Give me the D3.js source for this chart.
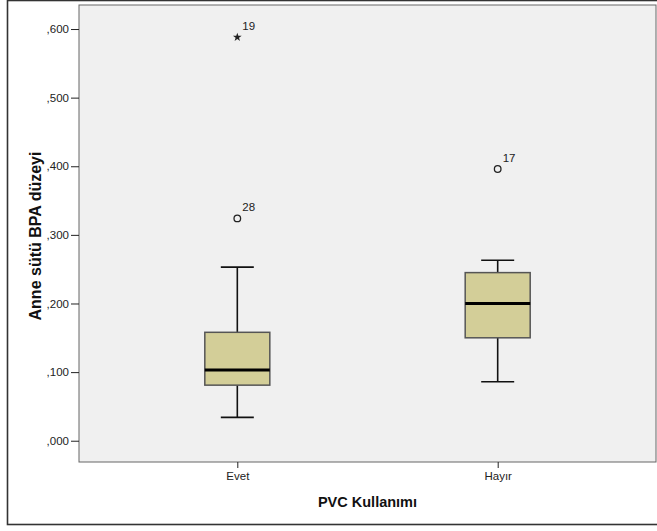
<!DOCTYPE html>
<html lang="tr">
<head>
  <meta charset="UTF-8">
  <title>Anne sütü BPA düzeyi</title>
  <script src="https://d3js.org/d3.v7.min.js"></script>
  <style>
    body { margin: 0; background: #fff; }
    svg { display: block; font-family: "Liberation Sans", Arial, sans-serif; }
    .tick text { font-size: 11.5px; fill: #222; }
  </style>
</head>
<body>
  <svg id="chart" width="657" height="531"></svg>
  <script>
    // data
    const categories = ["Evet", "Hayır"];
    const whiskerLow = [0.034, 0.086];
    const q1 = [0.081, 0.150];
    const median = [0.103, 0.200];
    const q3 = [0.158, 0.245];
    const whiskerHigh = [0.253, 0.263];

    // outliers (circle) and extremes (star)
    const outlierCat = ["Evet", "Evet", "Hayır"];
    const outlierValue = [0.324, 0.588, 0.396];
    const outlierLabel = ["28", "19", "17"];
    const outlierKind = ["circle", "star", "circle"];

    const yTicks = [0, 0.1, 0.2, 0.3, 0.4, 0.5, 0.6];

    // layout
    const plot = {left: 79, top: 5, right: 656, bottom: 462};
    const boxWidth = 65;
    const capWidth = 33;

    const svg = d3.select("#chart");

    // outer frame (cut off at the right like the original)
    svg.append("rect")
      .attr("x", 7.5).attr("y", 0.5)
      .attr("width", 680).attr("height", 524)
      .attr("fill", "#fff")
      .attr("stroke", "#333")
      .attr("stroke-width", 1.6);

    const x = d3.scalePoint()
      .domain(categories)
      .range([plot.left, plot.right])
      .padding(0.608);

    const y = d3.scaleLinear()
      .domain([-0.031, 0.635])
      .range([plot.bottom, plot.top]);

    // plot background
    svg.append("rect")
      .attr("x", plot.left).attr("y", plot.top)
      .attr("width", plot.right - plot.left)
      .attr("height", plot.bottom - plot.top)
      .attr("fill", "#f0f0f0")
      .attr("stroke", "#666")
      .attr("stroke-width", 1);

    // y axis
    const fmt = d3.format(".3f");
    const yAxis = d3.axisLeft(y)
      .tickValues(yTicks)
      .tickSize(8)
      .tickPadding(2)
      .tickFormat(d => fmt(d).replace("0.", ","));
    const gy = svg.append("g")
      .attr("transform", `translate(${plot.left},0)`)
      .call(yAxis);
    gy.select(".domain").remove();
    gy.selectAll(".tick line").attr("stroke", "#222");

    // x axis
    const xAxis = d3.axisBottom(x).tickSize(6).tickPadding(4);
    const gx = svg.append("g")
      .attr("transform", `translate(0,${plot.bottom})`)
      .call(xAxis);
    gx.select(".domain").remove();
    gx.selectAll(".tick line").attr("stroke", "#222");

    // axis titles
    svg.append("text")
      .attr("transform", `translate(41,236) rotate(-90)`)
      .attr("text-anchor", "middle")
      .attr("font-size", "16px")
      .attr("font-weight", "bold")
      .attr("fill", "#111")
      .text("Anne sütü BPA düzeyi");

    svg.append("text")
      .attr("x", (plot.left + plot.right) / 2)
      .attr("y", 507)
      .attr("text-anchor", "middle")
      .attr("font-size", "14.5px")
      .attr("font-weight", "bold")
      .attr("fill", "#111")
      .text("PVC Kullanımı");

    // boxes
    const boxes = svg.append("g");
    categories.forEach((c, i) => {
      const cx = x(c);
      // whiskers
      boxes.append("line")
        .attr("x1", cx).attr("x2", cx)
        .attr("y1", y(whiskerHigh[i])).attr("y2", y(q3[i]))
        .attr("stroke", "#111").attr("stroke-width", 1.6);
      boxes.append("line")
        .attr("x1", cx).attr("x2", cx)
        .attr("y1", y(q1[i])).attr("y2", y(whiskerLow[i]))
        .attr("stroke", "#111").attr("stroke-width", 1.6);
      [whiskerHigh[i], whiskerLow[i]].forEach(v => {
        boxes.append("line")
          .attr("x1", cx - capWidth / 2).attr("x2", cx + capWidth / 2)
          .attr("y1", y(v)).attr("y2", y(v))
          .attr("stroke", "#111").attr("stroke-width", 1.6);
      });
      // box
      boxes.append("rect")
        .attr("x", cx - boxWidth / 2)
        .attr("y", y(q3[i]))
        .attr("width", boxWidth)
        .attr("height", y(q1[i]) - y(q3[i]))
        .attr("fill", "#d3ce98")
        .attr("stroke", "#555")
        .attr("stroke-width", 1.5);
      // median
      boxes.append("line")
        .attr("x1", cx - boxWidth / 2).attr("x2", cx + boxWidth / 2)
        .attr("y1", y(median[i])).attr("y2", y(median[i]))
        .attr("stroke", "#000").attr("stroke-width", 3);
    });

    // outliers
    const outs = svg.append("g");
    outlierValue.forEach((v, i) => {
      const cx = x(outlierCat[i]);
      const cy = y(v);
      if (outlierKind[i] === "star") {
        outs.append("path")
          .attr("d", d3.symbol(d3.symbolStar, 24)())
          .attr("transform", `translate(${cx},${cy})`)
          .attr("fill", "#222");
      } else {
        outs.append("circle")
          .attr("cx", cx).attr("cy", cy).attr("r", 3.3)
          .attr("fill", "none")
          .attr("stroke", "#222")
          .attr("stroke-width", 1.3);
      }
      outs.append("text")
        .attr("x", cx + 5)
        .attr("y", cy - 7)
        .attr("font-size", "11.5px")
        .attr("fill", "#222")
        .text(outlierLabel[i]);
    });
  </script>
</body>
</html>
